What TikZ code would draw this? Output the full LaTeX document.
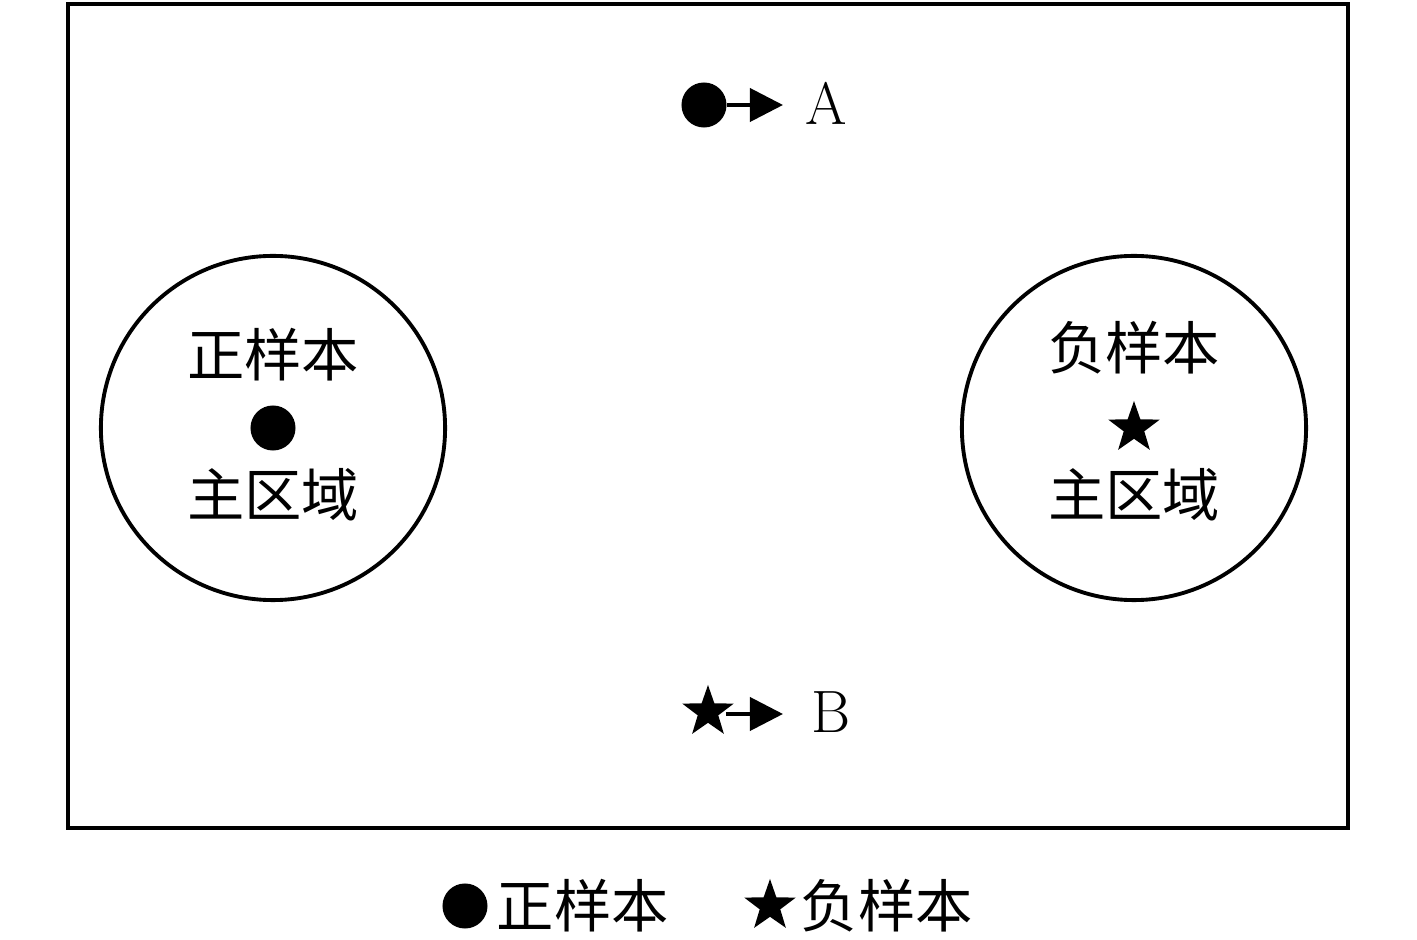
\documentclass[tikz,border=0pt]{standalone}
\usepackage{fontspec}
\newfontfamily\cjk{Noto Sans CJK SC}
\usepackage{tikz}
\usetikzlibrary{shapes.geometric, arrows.meta}

\begin{document}
\begin{tikzpicture}[x=0.01cm, y=-0.01cm]
\tikzstyle{region} = [circle, draw=black, line width=1.1pt, minimum size=3.44cm, inner sep=0pt]
\tikzstyle{dot} = [circle, fill=black, minimum size=0.45cm, inner sep=0pt]
\tikzstyle{starmark} = [star, star points=5, star point ratio=2.5, fill=black, minimum size=0.54cm, inner sep=0pt]
\tikzstyle{label} = [font=\cjk\fontsize{16.3pt}{19pt}\selectfont, inner sep=0pt]
\tikzstyle{letter} = [font=\fontsize{17pt}{20pt}\selectfont, inner sep=0pt]
\tikzstyle{arrow} = [line width=1.1pt, -{Triangle[length=0.33cm, width=0.33cm]}]

\useasboundingbox (0,0) rectangle (1417,940);
\draw [line width=1.1pt] (68,4) rectangle (1348,828);

% main regions
\node (posRegion) [region] at (273,428) {};
\node (negRegion) [region] at (1134,428) {};
\node (posTitle) [label] at (273,355) {正样本};
\node (posCenter) [dot] at (273,428) {};
\node (posMain) [label] at (273,495) {主区域};
\node (negTitle) [label] at (1134,348) {负样本};
\node (negCenter) [starmark] at (1134,428) {};
\node (negMain) [label] at (1134,495) {主区域};

% samples A and B
\node (sampleA) [dot] at (704,105) {};
\coordinate (tipA) at (783,105);
\node (nameA) [letter] at (826,103) {A};
\node (sampleB) [starmark] at (708,712) {};
\coordinate (tipB) at (783,714);
\node (nameB) [letter] at (831,712) {B};
\draw [arrow] (sampleA.east) -- (tipA);
\draw [arrow] (sampleB.center) ++(18,2) -- (tipB);

% legend
\node (legPos) [dot] at (465,906) {};
\node (legPosText) [label, anchor=west] at (496,906) {正样本};
\node (legNeg) [starmark] at (770,906) {};
\node (legNegText) [label, anchor=west] at (800,906) {负样本};

\end{tikzpicture}
\end{document}
